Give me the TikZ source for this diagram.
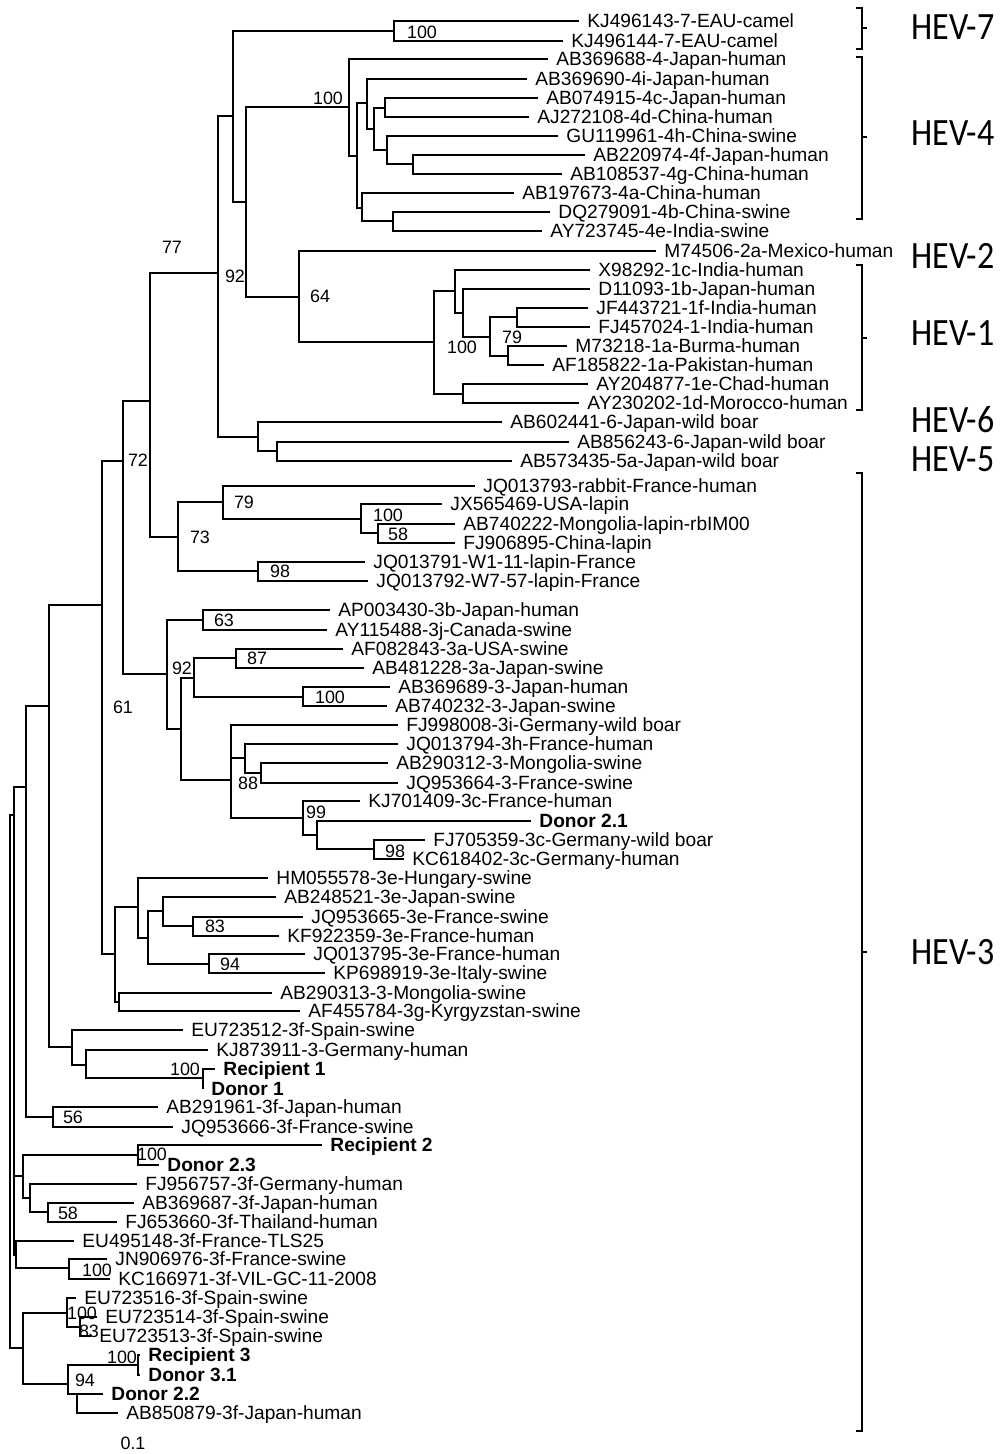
\documentclass[tikz,border=0pt]{standalone}
\usepackage{graphicx}
\usepackage{fontspec}
\setmainfont{Liberation Sans}
\newfontfamily\hevfont{Carlito}
\usepackage{tikz}
\usetikzlibrary{positioning}

\begin{document}
\begin{tikzpicture}[x=0.02cm, y=-0.02cm]
  \tikzset{
    branch/.style={line width=1.1pt, line join=miter},
    bracket/.style={line width=0.8pt},
    leaf/.style={anchor=west, inner xsep=4.6pt, inner ysep=0pt, text height=7.8pt, text depth=0pt, font=\fontsize{10.9pt}{12pt}\selectfont},
    donor/.style={leaf, font=\fontsize{10.9pt}{12pt}\selectfont\bfseries},
    boot/.style={inner sep=0pt, text height=7.3pt, text depth=0pt, font=\fontsize{10.2pt}{12pt}\selectfont},
    hev/.style={anchor=west, inner sep=0pt, text height=14.2pt, text depth=0pt, font=\hevfont\fontsize{22pt}{24pt}\selectfont},
  }
  \useasboundingbox (0,0) rectangle (1000,1454);

  \node (kj496143) at (579,21) [leaf] {KJ496143-7-EAU-camel};
  \node (kj496144) at (563,41) [leaf] {KJ496144-7-EAU-camel};
  \node (ab369688) at (548,59) [leaf] {AB369688-4-Japan-human};
  \node (ab369690) at (527,79) [leaf] {AB369690-4i-Japan-human};
  \node (ab074915) at (538,98) [leaf] {AB074915-4c-Japan-human};
  \node (aj272108) at (529,117) [leaf] {AJ272108-4d-China-human};
  \node (gu119961) at (558,136) [leaf] {GU119961-4h-China-swine};
  \node (ab220974) at (585,155) [leaf] {AB220974-4f-Japan-human};
  \node (ab108537) at (562,174) [leaf] {AB108537-4g-China-human};
  \node (ab197673) at (514,193) [leaf] {AB197673-4a-China-human};
  \node (dq279091) at (550,212) [leaf] {DQ279091-4b-China-swine};
  \node (ay723745) at (542,231) [leaf] {AY723745-4e-India-swine};
  \node (m74506) at (656,251) [leaf] {M74506-2a-Mexico-human};
  \node (x98292) at (590,270) [leaf] {X98292-1c-India-human};
  \node (d11093) at (590,289) [leaf] {D11093-1b-Japan-human};
  \node (jf443721) at (588,308) [leaf] {JF443721-1f-India-human};
  \node (fj457024) at (590,327) [leaf] {FJ457024-1-India-human};
  \node (m73218) at (567,346) [leaf] {M73218-1a-Burma-human};
  \node (af185822) at (544,365) [leaf] {AF185822-1a-Pakistan-human};
  \node (ay204877) at (588,384) [leaf] {AY204877-1e-Chad-human};
  \node (ay230202) at (579,403) [leaf] {AY230202-1d-Morocco-human};
  \node (ab602441) at (502,422) [leaf] {AB602441-6-Japan-wild boar};
  \node (ab856243) at (569,442) [leaf] {AB856243-6-Japan-wild boar};
  \node (ab573435) at (512,461) [leaf] {AB573435-5a-Japan-wild boar};
  \node (jq013793) at (475,486) [leaf] {JQ013793-rabbit-France-human};
  \node (jx565469) at (442,504) [leaf] {JX565469-USA-lapin};
  \node (ab740222) at (455,524) [leaf] {AB740222-Mongolia-lapin-rbIM00};
  \node (fj906895) at (455,543) [leaf] {FJ906895-China-lapin};
  \node (jq013791) at (365,562) [leaf] {JQ013791-W1-11-lapin-France};
  \node (jq013792) at (368,581) [leaf] {JQ013792-W7-57-lapin-France};
  \node (ap003430) at (330,610) [leaf] {AP003430-3b-Japan-human};
  \node (ay115488) at (327,630) [leaf] {AY115488-3j-Canada-swine};
  \node (af082843) at (343,649) [leaf] {AF082843-3a-USA-swine};
  \node (ab481228) at (364,668) [leaf] {AB481228-3a-Japan-swine};
  \node (ab369689) at (390,687) [leaf] {AB369689-3-Japan-human};
  \node (ab740232) at (387,706) [leaf] {AB740232-3-Japan-swine};
  \node (fj998008) at (398,725) [leaf] {FJ998008-3i-Germany-wild boar};
  \node (jq013794) at (398,744) [leaf] {JQ013794-3h-France-human};
  \node (ab290312) at (388,763) [leaf] {AB290312-3-Mongolia-swine};
  \node (jq953664) at (398,783) [leaf] {JQ953664-3-France-swine};
  \node (kj701409) at (360,801) [leaf] {KJ701409-3c-France-human};
  \node (don21) at (531,821) [donor] {Donor 2.1};
  \node (fj705359) at (425,840) [leaf] {FJ705359-3c-Germany-wild boar};
  \node (kc618402) at (404,859) [leaf] {KC618402-3c-Germany-human};
  \node (hm055578) at (268,878) [leaf] {HM055578-3e-Hungary-swine};
  \node (ab248521) at (276,897) [leaf] {AB248521-3e-Japan-swine};
  \node (jq953665) at (303,917) [leaf] {JQ953665-3e-France-swine};
  \node (kf922359) at (279,936) [leaf] {KF922359-3e-France-human};
  \node (jq013795) at (305,954) [leaf] {JQ013795-3e-France-human};
  \node (kp698919) at (325,973) [leaf] {KP698919-3e-Italy-swine};
  \node (ab290313) at (272,993) [leaf] {AB290313-3-Mongolia-swine};
  \node (af455784) at (300,1011) [leaf] {AF455784-3g-Kyrgyzstan-swine};
  \node (eu723512) at (183,1030) [leaf] {EU723512-3f-Spain-swine};
  \node (kj873911) at (208,1050) [leaf] {KJ873911-3-Germany-human};
  \node (rec1) at (215,1069) [donor] {Recipient 1};
  \node (don1) at (203,1089) [donor] {Donor 1};
  \node (ab291961) at (158,1107) [leaf] {AB291961-3f-Japan-human};
  \node (jq953666) at (173,1127) [leaf] {JQ953666-3f-France-swine};
  \node (rec2) at (322,1145) [donor] {Recipient 2};
  \node (don23) at (159,1165) [donor] {Donor 2.3};
  \node (fj956757) at (137,1184) [leaf] {FJ956757-3f-Germany-human};
  \node (ab369687) at (134,1203) [leaf] {AB369687-3f-Japan-human};
  \node (fj653660) at (117,1222) [leaf] {FJ653660-3f-Thailand-human};
  \node (eu495148) at (74,1241) [leaf] {EU495148-3f-France-TLS25};
  \node (jn906976) at (107,1259) [leaf] {JN906976-3f-France-swine};
  \node (kc166971) at (110,1279) [leaf] {KC166971-3f-VIL-GC-11-2008};
  \node (eu723516) at (76,1298) [leaf] {EU723516-3f-Spain-swine};
  \node (eu723514) at (97,1317) [leaf] {EU723514-3f-Spain-swine};
  \node (eu723513) at (91,1336) [leaf] {EU723513-3f-Spain-swine};
  \node (rec3) at (140,1355) [donor] {Recipient 3};
  \node (don31) at (140,1375) [donor] {Donor 3.1};
  \node (don22) at (103,1394) [donor] {Donor 2.2};
  \node (ab850879) at (118,1413) [leaf] {AB850879-3f-Japan-human};

  \coordinate (c7) at (394,31);
  \coordinate (c4a) at (349,107);
  \coordinate (c4b) at (357,156);
  \coordinate (c4c) at (367,103);
  \coordinate (c4d) at (374,129);
  \coordinate (c4e) at (385,108);
  \coordinate (c4f) at (387,150);
  \coordinate (c4g) at (413,164);
  \coordinate (c4h) at (362,208);
  \coordinate (c4i) at (393,221);
  \coordinate (c74) at (233,116);
  \coordinate (c12) at (246,202);
  \coordinate (c21) at (299,297);
  \coordinate (c1a) at (434,342);
  \coordinate (c1b) at (455,291);
  \coordinate (c1c) at (463,313);
  \coordinate (c1d) at (490,337);
  \coordinate (c1e) at (517,317);
  \coordinate (c1f) at (508,356);
  \coordinate (c1g) at (463,394);
  \coordinate (c92) at (218,273);
  \coordinate (c65) at (258,437);
  \coordinate (c5) at (277,451);
  \coordinate (c77) at (150,401);
  \coordinate (crab) at (178,537);
  \coordinate (cr1) at (223,502);
  \coordinate (cr2) at (361,519);
  \coordinate (cr3) at (378,533);
  \coordinate (cr4) at (258,571);
  \coordinate (c72) at (123,461);
  \coordinate (c3a) at (167,674);
  \coordinate (c3b) at (203,620);
  \coordinate (c3c) at (181,729);
  \coordinate (c3d) at (194,678);
  \coordinate (c3e) at (236,658);
  \coordinate (c3f) at (303,697);
  \coordinate (c3g) at (231,780);
  \coordinate (c3h) at (245,758);
  \coordinate (c3i) at (261,773);
  \coordinate (c3j) at (303,818);
  \coordinate (c3k) at (317,835);
  \coordinate (c3l) at (374,849);
  \coordinate (c61) at (102,605);
  \coordinate (c3m) at (115,954);
  \coordinate (c3n) at (138,907);
  \coordinate (c3o) at (148,938);
  \coordinate (c3p) at (163,911);
  \coordinate (c3q) at (193,926);
  \coordinate (c3r) at (209,964);
  \coordinate (c3s) at (119,1002);
  \coordinate (c49) at (49,706);
  \coordinate (c3t) at (72,1047);
  \coordinate (c3u) at (86,1065);
  \coordinate (c3v) at (203,1078);
  \coordinate (c26) at (26,787);
  \coordinate (c56) at (53,1117);
  \coordinate (cd23) at (138,1155);
  \coordinate (cg1) at (30,1198);
  \coordinate (c58) at (48,1212);
  \coordinate (cf1) at (23,1176);
  \coordinate (c16) at (16,1255);
  \coordinate (cjk) at (69,1268);
  \coordinate (csp) at (67,1313);
  \coordinate (csp2) at (80,1327);
  \coordinate (c94) at (68,1384);
  \coordinate (crd3) at (138,1365);
  \coordinate (cd22) at (77,1394);
  \coordinate (cbot) at (23,1348);
  \coordinate (ca) at (14,815);
  \coordinate (croot) at (10,1100);

  \draw [branch] (c7) |- (kj496143.west) (c7) |- (kj496144.west);
  \draw [branch] (c4a) |- (ab369688.west) (c4a) |- (c4b);
  \draw [branch] (c4b) |- (c4c) (c4b) |- (c4h);
  \draw [branch] (c4c) |- (ab369690.west) (c4c) |- (c4d);
  \draw [branch] (c4d) |- (c4e) (c4d) |- (c4f);
  \draw [branch] (c4e) |- (ab074915.west) (c4e) |- (aj272108.west);
  \draw [branch] (c4f) |- (gu119961.west) (c4f) |- (c4g);
  \draw [branch] (c4g) |- (ab220974.west) (c4g) |- (ab108537.west);
  \draw [branch] (c4h) |- (ab197673.west) (c4h) |- (c4i);
  \draw [branch] (c4i) |- (dq279091.west) (c4i) |- (ay723745.west);
  \draw [branch] (c74) |- (c7) (c74) |- (c12);
  \draw [branch] (c12) |- (c4a) (c12) |- (c21);
  \draw [branch] (c21) |- (m74506.west) (c21) |- (c1a);
  \draw [branch] (c1a) |- (c1b) (c1a) |- (c1g);
  \draw [branch] (c1b) |- (x98292.west) (c1b) |- (c1c);
  \draw [branch] (c1c) |- (d11093.west) (c1c) |- (c1d);
  \draw [branch] (c1d) |- (c1e) (c1d) |- (c1f);
  \draw [branch] (c1e) |- (jf443721.west) (c1e) |- (fj457024.west);
  \draw [branch] (c1f) |- (m73218.west) (c1f) |- (af185822.west);
  \draw [branch] (c1g) |- (ay204877.west) (c1g) |- (ay230202.west);
  \draw [branch] (c92) |- (c74) (c92) |- (c65);
  \draw [branch] (c65) |- (ab602441.west) (c65) |- (c5);
  \draw [branch] (c5) |- (ab856243.west) (c5) |- (ab573435.west);
  \draw [branch] (c77) |- (c92) (c77) |- (crab);
  \draw [branch] (crab) |- (cr1) (crab) |- (cr4);
  \draw [branch] (cr1) |- (jq013793.west) (cr1) |- (cr2);
  \draw [branch] (cr2) |- (jx565469.west) (cr2) |- (cr3);
  \draw [branch] (cr3) |- (ab740222.west) (cr3) |- (fj906895.west);
  \draw [branch] (cr4) |- (jq013791.west) (cr4) |- (jq013792.west);
  \draw [branch] (c72) |- (c77) (c72) |- (c3a);
  \draw [branch] (c3a) |- (c3b) (c3a) |- (c3c);
  \draw [branch] (c3b) |- (ap003430.west) (c3b) |- (ay115488.west);
  \draw [branch] (c3c) |- (c3d) (c3c) |- (c3g);
  \draw [branch] (c3d) |- (c3e) (c3d) |- (c3f);
  \draw [branch] (c3e) |- (af082843.west) (c3e) |- (ab481228.west);
  \draw [branch] (c3f) |- (ab369689.west) (c3f) |- (ab740232.west);
  \draw [branch] (c3g) |- (fj998008.west) (c3g) |- (c3h) (c3g) |- (c3j);
  \draw [branch] (c3h) |- (jq013794.west) (c3h) |- (c3i);
  \draw [branch] (c3i) |- (ab290312.west) (c3i) |- (jq953664.west);
  \draw [branch] (c3j) |- (kj701409.west) (c3j) |- (c3k);
  \draw [branch] (c3k) |- (don21.west) (c3k) |- (c3l);
  \draw [branch] (c3l) |- (fj705359.west) (c3l) |- (kc618402.west);
  \draw [branch] (c61) |- (c72) (c61) |- (c3m);
  \draw [branch] (c3m) |- (c3n) (c3m) |- (c3s);
  \draw [branch] (c3n) |- (hm055578.west) (c3n) |- (c3o);
  \draw [branch] (c3o) |- (c3p) (c3o) |- (c3r);
  \draw [branch] (c3p) |- (ab248521.west) (c3p) |- (c3q);
  \draw [branch] (c3q) |- (jq953665.west) (c3q) |- (kf922359.west);
  \draw [branch] (c3r) |- (jq013795.west) (c3r) |- (kp698919.west);
  \draw [branch] (c3s) |- (ab290313.west) (c3s) |- (af455784.west);
  \draw [branch] (c49) |- (c61) (c49) |- (c3t);
  \draw [branch] (c3t) |- (eu723512.west) (c3t) |- (c3u);
  \draw [branch] (c3u) |- (kj873911.west) (c3u) |- (c3v);
  \draw [branch] (c3v) |- (rec1.west) (c3v) |- (don1.west);
  \draw [branch] (c26) |- (c49) (c26) |- (c56);
  \draw [branch] (c56) |- (ab291961.west) (c56) |- (jq953666.west);
  \draw [branch] (cd23) |- (rec2.west) (cd23) |- (don23.west);
  \draw [branch] (cg1) |- (fj956757.west) (cg1) |- (c58);
  \draw [branch] (c58) |- (ab369687.west) (c58) |- (fj653660.west);
  \draw [branch] (cf1) |- (cd23) (cf1) |- (cg1);
  \draw [branch] (c16) |- (eu495148.west) (c16) |- (cjk);
  \draw [branch] (cjk) |- (jn906976.west) (cjk) |- (kc166971.west);
  \draw [branch] (csp) |- (eu723516.west) (csp) |- (csp2);
  \draw [branch] (csp2) |- (eu723514.west) (csp2) |- (eu723513.west);
  \draw [branch] (c94) |- (crd3) (c94) |- (cd22);
  \draw [branch] (crd3) |- (rec3.west) (crd3) |- (don31.west);
  \draw [branch] (cd22) |- (don22.west) (cd22) |- (ab850879.west);
  \draw [branch] (cbot) |- (csp) (cbot) |- (c94);
  \draw [branch] (ca) |- (c26) (ca) |- (cf1) (ca) |- (c16);
  \draw [branch] (croot) |- (ca) (croot) |- (cbot);

  \node (b7) at (422,32) [boot] {100};
  \node (b4) at (328,98) [boot] {100};
  \node (b77) at (172,247) [boot] {77};
  \node (b92) at (235,276) [boot] {92};
  \node (b64) at (320,296) [boot] {64};
  \node (b1a) at (462,347) [boot] {100};
  \node (b1d) at (512,337) [boot] {79};
  \node (b72) at (138,460) [boot] {72};
  \node (br1) at (244,502) [boot] {79};
  \node (br2) at (388,515) [boot] {100};
  \node (br3) at (398,534) [boot] {58};
  \node (brab) at (200,537) [boot] {73};
  \node (br4) at (280,571) [boot] {98};
  \node (b3b) at (224,620) [boot] {63};
  \node (b3a) at (182,668) [boot] {92};
  \node (b3e) at (257,658) [boot] {87};
  \node (b3f) at (330,697) [boot] {100};
  \node (b61) at (123,707) [boot] {61};
  \node (b3i) at (248,783) [boot] {88};
  \node (b3j) at (316,812) [boot] {99};
  \node (b3l) at (395,851) [boot] {98};
  \node (b3q) at (215,926) [boot] {83};
  \node (b3r) at (230,964) [boot] {94};
  \node (b3v) at (185,1069) [boot] {100};
  \node (b56) at (73,1117) [boot] {56};
  \node (bd23) at (152,1154) [boot] {100};
  \node (b58) at (68,1213) [boot] {58};
  \node (bjk) at (97,1270) [boot] {100};
  \node (bsp) at (82,1313) [boot] {100};
  \node (bsp2) at (89,1331) [boot] {83};
  \node (brd3) at (122,1357) [boot] {100};
  \node (b94) at (85,1380) [boot] {94};
  \node (scale) at (133,1443) [boot] {0.1};

  \draw [bracket] (856,8) -- (862,8) -- (862,49) -- (856,49) (862,28) -- (867,28);
  \draw [bracket] (856,57) -- (862,57) -- (862,219) -- (856,219) (862,137) -- (867,137);
  \draw [bracket] (856,265) -- (862,265) -- (862,410) -- (856,410) (862,338) -- (867,338);
  \draw [bracket] (856,473) -- (862,473) -- (862,1431) -- (856,1431) (862,952) -- (867,952);

  \node (hev7) at (911,27) [hev] {\scalebox{0.88}[1]{HEV-7}};
  \node (hev4) at (911,133) [hev] {\scalebox{0.88}[1]{HEV-4}};
  \node (hev2) at (911,256) [hev] {\scalebox{0.88}[1]{HEV-2}};
  \node (hev1) at (911,333) [hev] {\scalebox{0.88}[1]{HEV-1}};
  \node (hev6) at (911,420) [hev] {\scalebox{0.88}[1]{HEV-6}};
  \node (hev5) at (911,459) [hev] {\scalebox{0.88}[1]{HEV-5}};
  \node (hev3) at (911,952) [hev] {\scalebox{0.88}[1]{HEV-3}};
\end{tikzpicture}
\end{document}
